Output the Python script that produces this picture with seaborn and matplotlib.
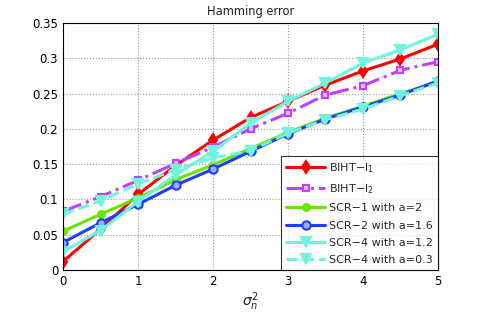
import numpy as np
import pandas as pd
import matplotlib
matplotlib.use("Agg")
import matplotlib.pyplot as plt
import seaborn as sns

# ── Data ────────────────────────────────────────────────────
sigma2 = [0, 0.5, 1, 1.5, 2, 2.5, 3, 3.5, 4, 4.5, 5]
biht_l1 = [0.012, 0.058, 0.107, 0.148, 0.184, 0.216, 0.239, 0.262, 0.282, 0.299, 0.320]
biht_l2 = [0.083, 0.104, 0.127, 0.151, 0.174, 0.200, 0.222, 0.248, 0.261, 0.283, 0.295]
scr1_a2 = [0.055, 0.079, 0.102, 0.128, 0.149, 0.172, 0.195, 0.215, 0.232, 0.250, 0.266]
scr2_a16 = [0.039, 0.067, 0.093, 0.120, 0.143, 0.168, 0.193, 0.214, 0.231, 0.248, 0.268]
scr4_a12 = [0.026, 0.056, 0.097, 0.135, 0.168, 0.208, 0.239, 0.265, 0.293, 0.312, 0.334]
scr4_a03 = [0.079, 0.098, 0.122, 0.142, 0.159, 0.169, 0.194, 0.213, 0.228, 0.247, 0.265]

labels = ['BIHT$-$l$_1$', 'BIHT$-$l$_2$', 'SCR\u22121 with a=2',
          'SCR\u22122 with a=1.6', 'SCR\u22124 with a=1.2', 'SCR\u22124 with a=0.3']
series = [biht_l1, biht_l2, scr1_a2, scr2_a16, scr4_a12, scr4_a03]

styles = [
    dict(color='#ff0000', marker='d', linestyle='-', mfc='#ff0000', ms=6),
    dict(color='#bf40ff', marker='s', linestyle='-.', mfc='#e9b8ff', ms=5),
    dict(color='#66e600', marker='o', linestyle='-', mfc='#66e600', ms=5),
    dict(color='#1f3dff', marker='o', linestyle='-', mfc='#9ab0ff', ms=6),
    dict(color='#70f5dc', marker='v', linestyle='-', mfc='#70f5dc', ms=7.5),
    dict(color='#70f5dc', marker='v', linestyle='--', mfc='#70f5dc', ms=7.5),
]

sns.set_style('white')
plt.rcParams['font.family'] = ['DejaVu Sans']

fig = plt.figure(figsize=(4.85, 3.14), dpi=100)
ax = fig.add_axes([0.13, 0.14, 0.773, 0.787])

for vals, lab, st in zip(series, labels, styles):
    df = pd.DataFrame({'x': sigma2, 'y': vals})
    sns.lineplot(data=df, x='x', y='y', ax=ax, label=lab, color=st['color'],
                 marker=st['marker'], markersize=st['ms'], markerfacecolor=st['mfc'],
                 markeredgecolor=st['color'], markeredgewidth=1.5,
                 linewidth=2.2, linestyle=st['linestyle'])

ax.set_xlim(0, 5)
ax.set_ylim(0, 0.35)
ax.set_xticks(range(6))
ax.set_yticks(np.arange(0, 0.351, 0.05))
ax.set_yticklabels(['0', '0.05', '0.1', '0.15', '0.2', '0.25', '0.3', '0.35'])
ax.grid(True, linestyle=':', color='#999999', linewidth=0.8)
ax.tick_params(direction='in', length=3, labelsize=8.5, colors='black')
for sp in ax.spines.values():
    sp.set_color('black')
    sp.set_linewidth(0.8)

ax.set_xlabel('$\\sigma_n^2$', fontsize=10, labelpad=2)
ax.set_ylabel('')
ax.set_title('Hamming error', fontsize=8.3, pad=6, color='#222222')

leg = ax.legend(loc='lower right', fontsize=8, frameon=True, fancybox=False,
                borderaxespad=0, handlelength=3.5, labelspacing=0.65,
                borderpad=0.45, handletextpad=0.35)
leg.get_frame().set_edgecolor('black')
leg.get_frame().set_linewidth(0.8)

fig.savefig('out.png', dpi=100)
